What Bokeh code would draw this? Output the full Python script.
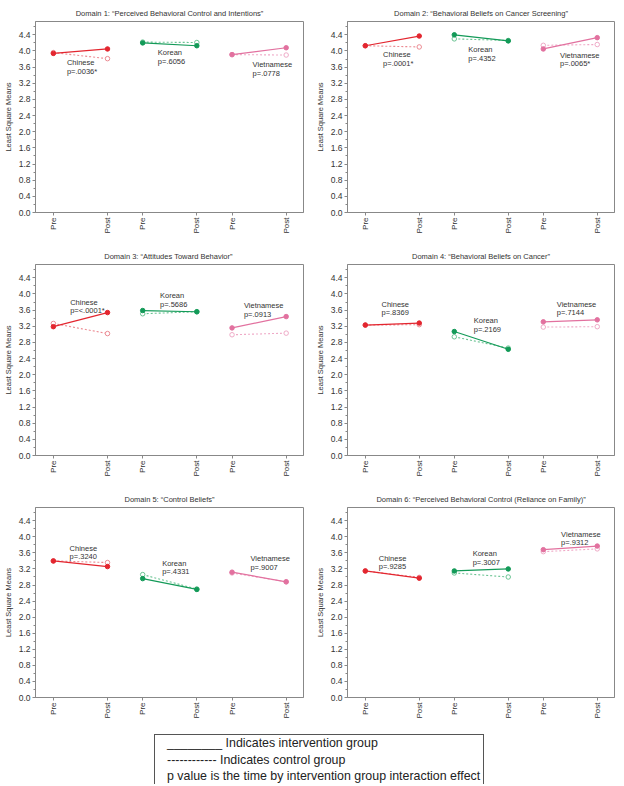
import numpy as np
from bokeh.plotting import figure
from bokeh.models import FixedTicker, Range1d, Div, ColumnDataSource
from bokeh.layouts import column, row
from bokeh.core.properties import value
from bokeh.embed import file_html
from bokeh.resources import INLINE

titles = [
    "Domain 1: \u201cPerceived Behavioral Control and Intentions\u201d",
    "Domain 2: \u201cBehavioral Beliefs on Cancer Screening\u201d",
    "Domain 3:  \u201cAttitudes Toward Behavior\u201d",
    "Domain 4: \u201cBehavioral Beliefs on Cancer\u201d",
    "Domain 5: \u201cControl Beliefs\u201d",
    "Domain 6: \u201cPerceived Behavioral Control (Reliance on Family)\u201d",
]
groups = ["Chinese", "Korean", "Vietnamese"]
time_labels = ["Pre", "Post", "Pre", "Post", "Pre", "Post"]
y_ticks = [0.0, 0.4, 0.8, 1.2, 1.6, 2.0, 2.4, 2.8, 3.2, 3.6, 4.0, 4.4]

# intervention group means: [Chinese pre, post, Korean pre, post, Vietnamese pre, post]
intervention_d1 = [3.94, 4.05, 4.20, 4.13, 3.91, 4.08]
intervention_d2 = [4.13, 4.37, 4.40, 4.25, 4.05, 4.33]
intervention_d3 = [3.19, 3.54, 3.59, 3.56, 3.16, 3.44]
intervention_d4 = [3.23, 3.28, 3.07, 2.63, 3.31, 3.36]
intervention_d5 = [3.40, 3.26, 2.96, 2.69, 3.12, 2.88]
intervention_d6 = [3.15, 2.97, 3.15, 3.20, 3.68, 3.77]

# control group means
control_d1 = [3.96, 3.81, 4.22, 4.21, 3.91, 3.90]
control_d2 = [4.13, 4.10, 4.30, 4.26, 4.14, 4.16]
control_d3 = [3.27, 3.02, 3.51, 3.56, 2.99, 3.03]
control_d4 = [3.23, 3.24, 2.94, 2.66, 3.18, 3.19]
control_d5 = [3.40, 3.36, 3.06, 2.70, 3.10, 2.88]
control_d6 = [3.15, 2.99, 3.10, 3.00, 3.63, 3.70]

p_d1 = ["p=.0036*", "p=.6056", "p=.0778"]
p_d2 = ["p=.0001*", "p=.4352", "p=.0065*"]
p_d3 = ["p=<.0001*", "p=.5686", "p=.0913"]
p_d4 = ["p=.8369", "p=.2169", "p=.7144"]
p_d5 = ["p=.3240", "p=.4331", "p=.9007"]
p_d6 = ["p=.9285", "p=.3007", "p=.9312"]

interventions = [intervention_d1, intervention_d2, intervention_d3,
                 intervention_d4, intervention_d5, intervention_d6]
controls = [control_d1, control_d2, control_d3, control_d4, control_d5, control_d6]
pvals = [p_d1, p_d2, p_d3, p_d4, p_d5, p_d6]

# layout constants (x slot positions and annotation anchors)
x_slots = [0, 1, 1.65, 2.65, 3.3, 4.3]
label_anchor = [
    [(0.25, 3.71), (1.93, 3.96), (3.68, 3.66)],
    [(0.33, 3.91), (1.91, 4.03), (3.61, 3.89)],
    [(0.31, 3.80), (1.97, 3.96), (3.52, 3.71)],
    [(0.30, 3.74), (2.01, 3.34), (3.55, 3.74)],
    [(0.30, 3.72), (2.01, 3.34), (3.64, 3.45)],
    [(0.25, 3.46), (1.99, 3.58), (3.63, 4.06)],
]
int_colors = ["#e3262f", "#139a58", "#e2719f"]
ctl_colors = ["#ec8a92", "#6cc494", "#efaac7"]
FONT = "Liberation Sans"


def make_panel(i, left_col):
    w = 312 if left_col else 310
    h = 243 if i < 4 else 248
    p = figure(width=w, height=h, output_backend="svg", toolbar_location=None,
               x_range=Range1d(-0.33, 4.62), y_range=Range1d(0, 4.73),
               min_border_left=32 if left_col else 29,
               min_border_right=9 if left_col else 8,
               min_border_top=21, min_border_bottom=31 if i < 4 else 37)
    p.title.text = titles[i]
    p.title.text_font = FONT
    p.title.text_font_size = "7.5px"
    p.title.text_font_style = "normal"
    p.title.text_color = "#333333"
    p.title.align = "center"
    p.title.standoff = 8
    p.title.offset = 0
    p.xgrid.visible = False
    p.ygrid.visible = False
    p.outline_line_color = "#888888"
    p.outline_line_width = 1

    xa = p.xaxis[0]
    xa.ticker = FixedTicker(ticks=x_slots, minor_ticks=[])
    xa.major_label_overrides = {x: t for x, t in zip(x_slots, time_labels)}
    xa.major_label_orientation = np.pi / 2
    xa.major_label_text_font = FONT
    xa.major_label_text_font_size = "8px"
    xa.major_label_text_color = "#333333"
    xa.major_tick_in = 0
    xa.major_tick_out = 3
    xa.major_label_standoff = 2
    xa.axis_line_color = "#888888"
    xa.major_tick_line_color = "#888888"

    ya = p.yaxis[0]
    ya.ticker = FixedTicker(ticks=y_ticks,
                            minor_ticks=[round(v + 0.2, 1) for v in y_ticks])
    ya.major_label_overrides = {v: f"{v:.1f}" for v in y_ticks}
    ya.major_label_text_font = FONT
    ya.major_label_text_font_size = "8.5px"
    ya.major_label_text_color = "#333333"
    ya.major_tick_in = 0
    ya.major_tick_out = 3
    ya.minor_tick_in = 0
    ya.minor_tick_out = 2
    ya.major_label_standoff = 2
    ya.axis_label = "Least Square Means"
    ya.axis_label_text_font = FONT
    ya.axis_label_text_font_size = "7.5px"
    ya.axis_label_text_font_style = "normal"
    ya.axis_label_text_color = "#333333"
    ya.axis_label_standoff = 3
    ya.axis_line_color = "#888888"
    ya.major_tick_line_color = "#888888"
    ya.minor_tick_line_color = "#888888"

    for g in range(3):
        xs = x_slots[2 * g:2 * g + 2]
        ci = interventions[i][2 * g:2 * g + 2]
        cc = controls[i][2 * g:2 * g + 2]
        p.line(xs, cc, line_color=ctl_colors[g], line_width=1.1, line_dash="2 2")
        p.scatter(xs, cc, size=4.5, marker="circle", line_color=ctl_colors[g],
                  fill_color="white", line_width=1)
        p.line(xs, ci, line_color=int_colors[g], line_width=1.2)
        p.scatter(xs, ci, size=4.5, marker="circle", line_color=int_colors[g],
                  fill_color=int_colors[g])
        lx, ly = label_anchor[i][g]
        src = ColumnDataSource(dict(x=[lx, lx], y=[ly, ly - 0.21],
                                    t=[groups[g], pvals[i][g]]))
        p.text(x="x", y="y", text="t", source=src, text_font=value(FONT),
               text_font_size="7.5px", text_color="#333333",
               text_baseline="middle", text_align="left")
    return p


panels = [make_panel(i, i % 2 == 0) for i in range(6)]

legend_html = (
    '<div style="border:1px solid #555;border-bottom:none;width:330px;height:50px;'
    'box-sizing:border-box;padding:0 0 0 12px;font-family:\'Liberation Sans\',Arial,sans-serif;'
    'font-size:12.4px;line-height:16.5px;color:#222;overflow:hidden;white-space:nowrap;">'
    '________ Indicates intervention group<br>'
    '------------ Indicates control group<br>'
    'p value is the time by intervention group interaction effect'
    '</div>'
)
legend = Div(text=legend_html, width=330, height=50, margin=(0, 0, 0, 154))

layout = column(row(panels[0], panels[1], spacing=0),
                row(panels[2], panels[3], spacing=0),
                row(panels[4], panels[5], spacing=0),
                legend, spacing=0)

open("out.html", "w").write(file_html(layout, INLINE))
